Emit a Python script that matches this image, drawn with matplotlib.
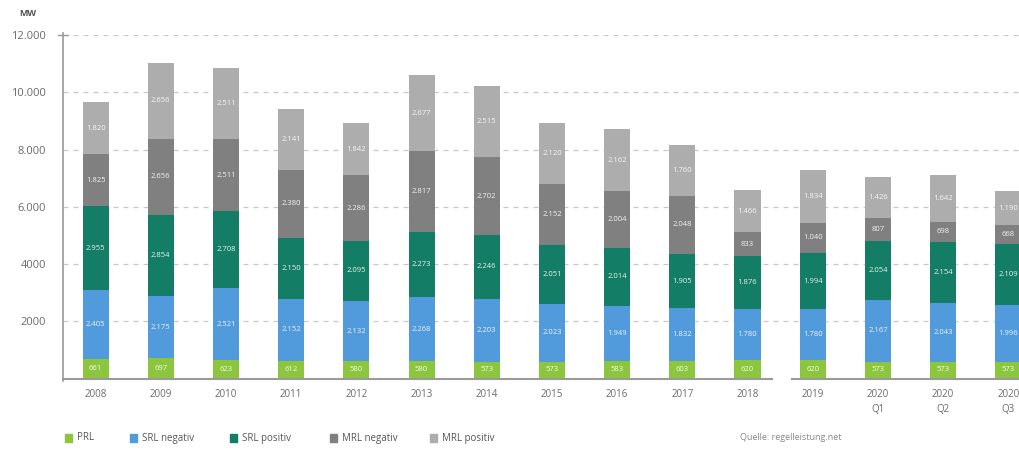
import matplotlib
matplotlib.use("Agg")
import matplotlib.pyplot as plt
from matplotlib.patches import Rectangle
from matplotlib.lines import Line2D

plt.rcParams['font.family'] = ['Open Sans', 'DejaVu Sans']

categories = ["2008", "2009", "2010", "2011", "2012", "2013", "2014", "2015",
              "2016", "2017", "2018", "2019", "2020\nQ1", "2020\nQ2", "2020\nQ3"]
prl = [661, 697, 623, 612, 580, 580, 573, 573, 583, 603, 620, 620, 573, 573, 573]
srl_neg = [2405, 2175, 2521, 2152, 2132, 2268, 2203, 2023, 1949, 1832, 1780, 1780, 2167, 2043, 1996]
srl_pos = [2955, 2854, 2708, 2150, 2095, 2273, 2246, 2051, 2014, 1905, 1876, 1994, 2054, 2154, 2109]
mrl_neg = [1825, 2656, 2511, 2380, 2286, 2817, 2702, 2152, 2004, 2048, 833, 1040, 807, 698, 668]
mrl_pos = [1820, 2656, 2511, 2141, 1842, 2677, 2515, 2120, 2162, 1760, 1466, 1834, 1426, 1642, 1190]
series_names = ["PRL", "SRL negativ", "SRL positiv", "MRL negativ", "MRL positiv"]
yticks = [2000, 4000, 6000, 8000, 10000, 12000]
ytick_labels = ["2000", "4000", "6.000", "8.000", "10.000", "12.000"]

colors = ["#8cc63e", "#519adb", "#137d65", "#808080", "#adadad"]
series = [prl, srl_neg, srl_pos, mrl_neg, mrl_pos]

fig = plt.figure(figsize=(10.2, 4.5), dpi=100)
ax = fig.add_axes([63/1020, 1-378/450, 1-63/1020, (378-35.4)/450])

x = list(range(len(categories)))
bottoms = [0]*len(categories)
for vals, col in zip(series, colors):
    ax.bar(x, vals, width=0.4, bottom=bottoms, color=col, zorder=3)
    for xi, v, b in zip(x, vals, bottoms):
        s = f"{v:,}".replace(",", ".") if v >= 1000 else str(v)
        ax.text(xi, b + v/2, s, ha='center', va='center', color='white',
                fontsize=5.5, zorder=4, alpha=0.9)
    bottoms = [b + v for b, v in zip(bottoms, vals)]

ax.set_xlim(-0.5, 14.18)
ax.set_ylim(0, 12000)
ax.set_yticks(yticks)
ax.set_yticklabels(ytick_labels, fontsize=8, color='#6a6a6a')
ax.set_xticks(x)
ax.set_xticklabels(categories, fontsize=7, color='#6a6a6a', linespacing=1.5)
ax.tick_params(axis='x', length=0, pad=8)
ax.tick_params(axis='y', length=0, pad=12)
for yt in yticks:
    ax.axhline(yt, color='#c8c8c8', lw=0.9, ls=(0, (4, 4)), zorder=1)

for sp in ['top', 'right', 'bottom']:
    ax.spines[sp].set_visible(False)
ax.spines['left'].set_color('#9a9a9a')
ax.spines['left'].set_linewidth(1.2)
ax.spines['left'].set_bounds(-100, 12100)

# broken baseline
ax.add_line(Line2D([-0.5, 10.38], [-50, -50], color='#9a9a9a', lw=1.5, clip_on=False, zorder=5))
ax.add_line(Line2D([10.68, 14.18], [-50, -50], color='#9a9a9a', lw=1.5, clip_on=False, zorder=5))
ax.add_line(Line2D([-0.58, -0.42], [12000, 12000], color='#9a9a9a', lw=1.0, clip_on=False))

fig.text(28/1020, 1-14/450, "MW", fontsize=6.5, fontweight='bold', color='#555555',
         ha='center', va='center')

# legend
leg_x = [65, 130, 230, 330, 430]
for lx, name, col in zip(leg_x, series_names, colors):
    fig.patches.append(Rectangle((lx/1020, 1-442/450), 7/1020, 8/450,
                                 transform=fig.transFigure, color=col))
    fig.text((lx+12)/1020, 1-438/450, name, fontsize=7, color='#555555', va='center')

fig.text(740/1020, 1-438/450, "Quelle: regelleistung.net", fontsize=6.5,
         color='#888888', va='center')

fig.savefig("out.png", dpi=100, facecolor='white')
